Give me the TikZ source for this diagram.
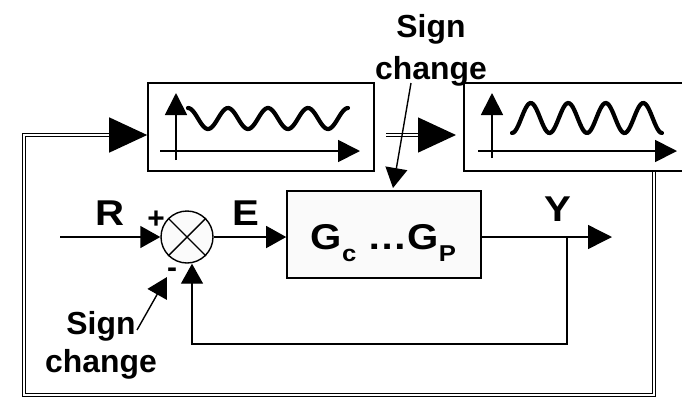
\documentclass[tikz,border=0pt]{standalone}
\usepackage{graphicx}
\usepackage{fontspec}
\setmainfont{Liberation Sans}
\usetikzlibrary{arrows.meta}
\newcommand{\wide}[1]{\scalebox{1.12}[1]{#1}}
\newcommand{\gsub}[1]{\raisebox{-12bp}{\fontsize{23}{23}\selectfont #1}}
\tikzset{
  box/.style={draw, line width=1.6bp, inner sep=0pt},
  sig/.style={line width=1.4bp, -{Triangle[length=20bp,width=22bp]}},
  ysig/.style={line width=1.4bp, -{Triangle[length=24bp,width=24bp]}},
  bigsig/.style={line width=1.4bp, -{Triangle[length=38bp,width=35bp]}},
  dbl/.style={double, line width=1bp, double distance=2.4bp},
  axis/.style={line width=1.8bp, -{Triangle[length=22bp,width=22bp]}},
  wave/.style={line width=4.2bp, line cap=round},
  lbl/.style={font=\fontsize{32}{38}\selectfont\bfseries, inner sep=0pt},
  big/.style={font=\fontsize{36}{40}\selectfont\bfseries, inner sep=0pt},
  pm/.style={font=\fontsize{30}{30}\selectfont\bfseries, inner sep=0pt},
}
\begin{document}
\begin{tikzpicture}[x=1bp, y=-1bp]
\useasboundingbox (0,0) rectangle (682,398);

\node[box, minimum width=226bp, minimum height=88bp] (osc1) at (261,127) {};
\draw[axis] (176,160) -- (176,93);
\draw[axis] (160,151) -- (360,151);
\draw[wave] plot[domain=0:4, samples=100] ({188+40*\x}, {118.5-10.5*cos(360*\x)});

\node[box, minimum width=222bp, minimum height=88bp] (osc2) at (575,127) {};
\draw[axis] (492,158) -- (492,93);
\draw[axis] (478,151) -- (677,151);
\draw[wave] plot[domain=0:4, samples=100] ({512+37.5*\x}, {118+15*cos(360*\x)});

\node[circle, draw, fill=gray!3, line width=1.4bp, minimum size=52bp, inner sep=0pt] (sum) at (187,237) {};
\draw[line width=1.4bp] (sum.north west) -- (sum.south east) (sum.north east) -- (sum.south west);
\node[box, fill=gray!4, minimum width=194bp, minimum height=87bp] (gc) at (384,234.5) {};
\node[big] (gtxt) at (383.5,243) {\wide{G\gsub{c} …G\gsub{P}}};

\node[big] (rlab) at (110,213) {\wide{R}};
\node[big] (elab) at (246,213) {\wide{E}};
\node[big] (ylab) at (558,209) {\wide{Y}};
\node[pm] (plus) at (156,220) {+};
\node[pm] (minus) at (172,273) {-};

\coordinate (rin) at (60,237);
\coordinate (yout) at (612,237);
\coordinate (yb) at (567,237);
\coordinate (fb) at (192,344);
\draw[sig] (rin) -- (sum.west);
\draw[sig] (sum.east) -- (sum.east -| gc.west);
\draw[ysig] (sum.east -| gc.east) -- (yout);
\draw[sig] (yb) |- (fb) -- (fb |- sum.south);

\coordinate (fbr) at (654,395);
\coordinate (fbl) at (24,395);
\coordinate (in1) at (110,135);
\coordinate (out1) at (386,135);
\coordinate (in2) at (418,135);
\coordinate (tip2) at (456,135);
\draw[dbl] (fbr |- osc2.south) -- (fbr) -- (fbl) |- (in1);
\draw[bigsig] (in1) -- (osc1.west |- in1);
\draw[dbl] (out1) -- (in2);
\draw[bigsig] (in2) -- (tip2);

\node[lbl, align=center, anchor=north] (sc1) at (431,14) {Sign\\[4bp]change};
\node[lbl, align=center, anchor=north] (sc2) at (101,311) {Sign\\change};
\coordinate (t1) at (411,83);
\coordinate (h1) at (393,188);
\coordinate (t2) at (137,330);
\coordinate (h2) at (167,277);
\draw[sig] (t1) -- (h1);
\draw[sig] (t2) -- (h2);
\end{tikzpicture}
\end{document}
